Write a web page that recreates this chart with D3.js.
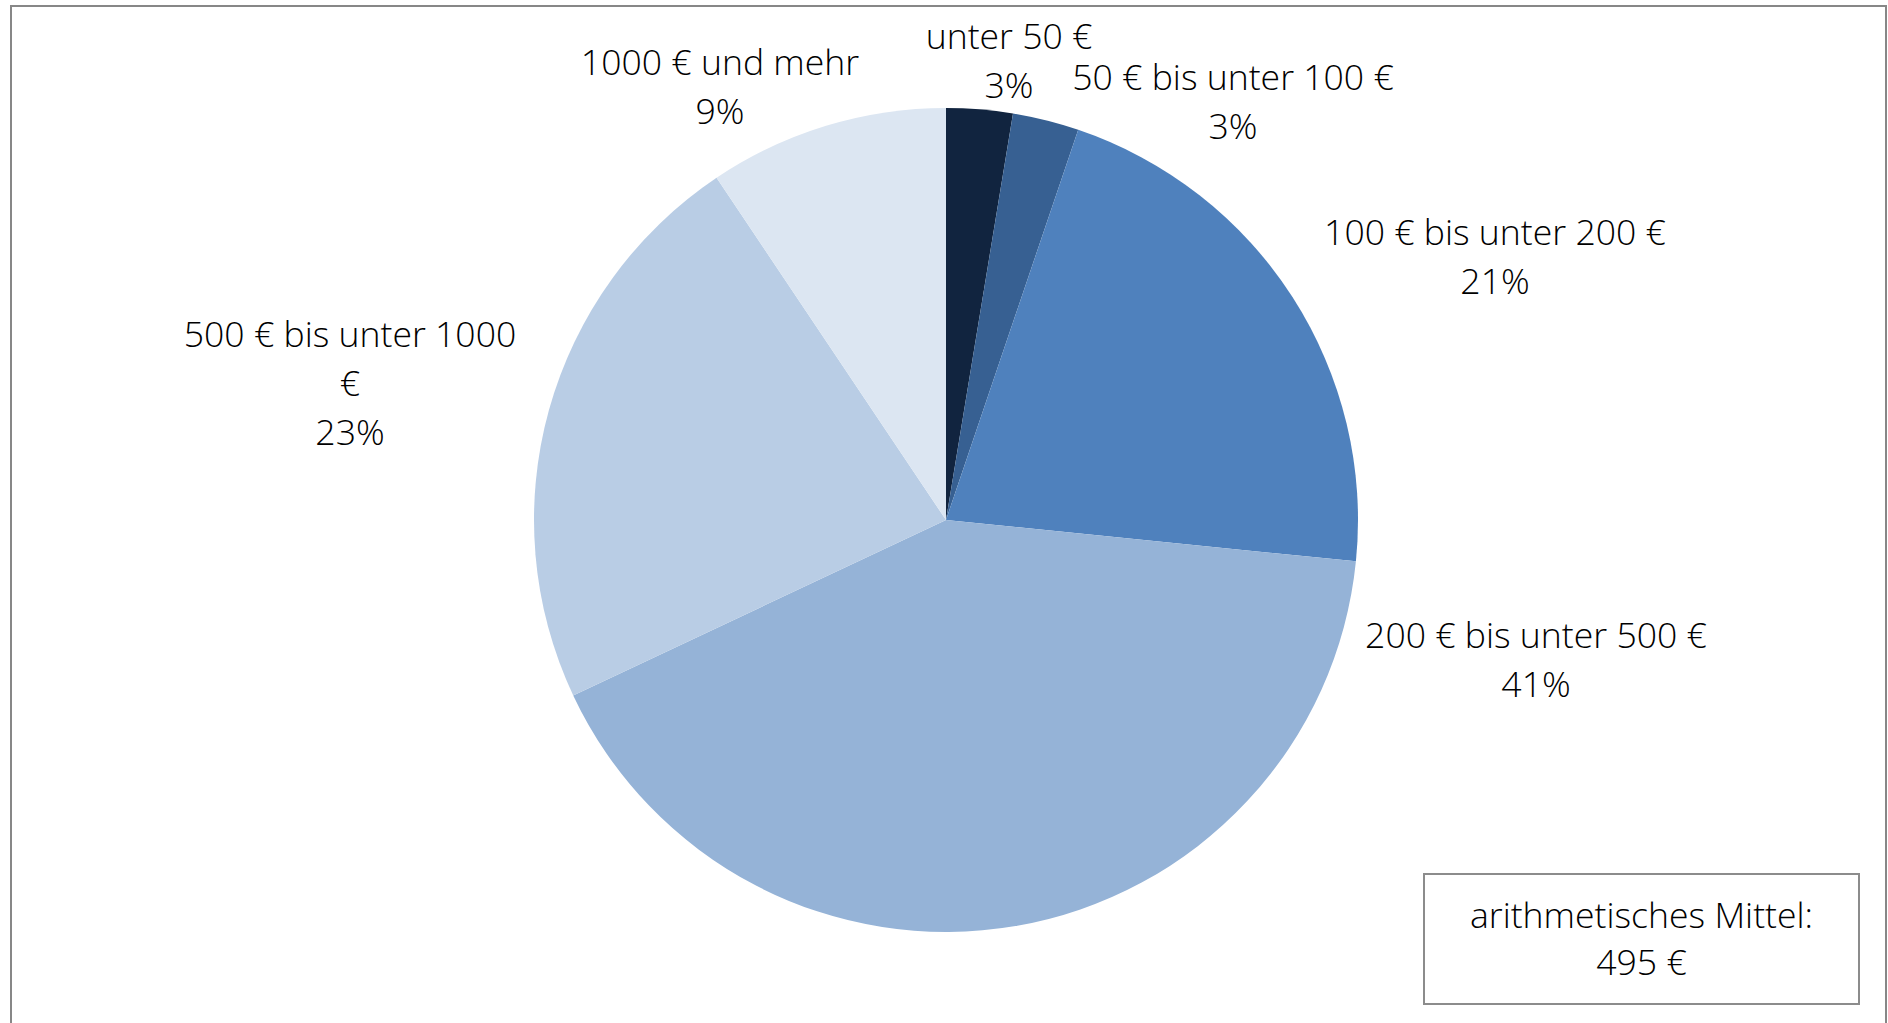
<!DOCTYPE html>
<html>
<head>
<meta charset="utf-8">
<script src="https://cdn.jsdelivr.net/npm/d3@7"></script>
<style>
  html, body { margin: 0; padding: 0; background: #fff; }
  svg { display: block; }
  text { font-family: "Open Sans", "Noto Sans", sans-serif; font-weight: 300; fill: #000; }
</style>
</head>
<body>
<svg id="chart" width="1888" height="1023"></svg>
<script>
// ---- data ----
const categories = ["unter 50 €", "50 € bis unter 100 €", "100 € bis unter 200 €", "200 € bis unter 500 €", "500 € bis unter 1000 €", "1000 € und mehr"];
const labelLines = [["unter 50 €"], ["50 € bis unter 100 €"], ["100 € bis unter 200 €"], ["200 € bis unter 500 €"], ["500 € bis unter 1000", "€"], ["1000 € und mehr"]];
const shares = [2.6, 2.6, 21.4, 41.4, 22.6, 9.4];
const colors = ["#11243f", "#376092", "#4f81bd", "#95b3d7", "#b9cde5", "#dce6f2"];
const meanLabel = ["arithmetisches Mittel:", "495 €"];

// ---- layout ----
const W = 1888, H = 1023;
const cx = 946, cy = 520, R = 412;
const lineH = 49;
const fontSize = 35.6;
// label anchor offsets (first baseline) relative to pie centre
const labelOffsets = [[63, -471], [287, -430], [549, -275], [590, 128], [-596, -173], [-226, -445]];

const svg = d3.select("#chart");

// outer chart border
svg.append("rect")
  .attr("x", 11).attr("y", 6).attr("width", 1875).attr("height", 1040)
  .attr("fill", "none").attr("stroke", "#878787").attr("stroke-width", 2);

const data = categories.map((c, i) => ({ cat: c, value: shares[i], lines: labelLines[i], color: colors[i], off: labelOffsets[i] }));

const pie = d3.pie().sort(null).value(d => d.value).startAngle(0).endAngle(2 * Math.PI);
const arc = d3.arc().innerRadius(0).outerRadius(R);

const g = svg.append("g").attr("transform", `translate(${cx},${cy})`);
g.selectAll("path.slice")
  .data(pie(data))
  .join("path")
  .attr("class", "slice")
  .attr("d", arc)
  .attr("fill", d => d.data.color);

// labels
const lg = g.selectAll("text.lbl")
  .data(data)
  .join("text")
  .attr("class", "lbl")
  .attr("text-anchor", "middle")
  .attr("font-size", fontSize)
  .attr("x", d => d.off[0])
  .attr("y", d => d.off[1]);

lg.each(function(d) {
  const t = d3.select(this);
  const lines = d.lines.concat([Math.round(d.value) + "%"]);
  lines.forEach((ln, k) => {
    t.append("tspan").attr("x", d.off[0]).attr("y", d.off[1] + k * lineH).text(ln);
  });
});

// mean box
const bx = 1424, by = 874, bw = 435, bh = 130;
svg.append("rect")
  .attr("x", bx).attr("y", by).attr("width", bw).attr("height", bh)
  .attr("fill", "#fff").attr("stroke", "#8c8c8c").attr("stroke-width", 2);
const mt = svg.append("text").attr("text-anchor", "middle").attr("font-size", fontSize);
meanLabel.forEach((ln, k) => {
  mt.append("tspan").attr("x", bx + bw / 2).attr("y", 928 + k * 47).text(ln);
});
</script>
</body>
</html>
